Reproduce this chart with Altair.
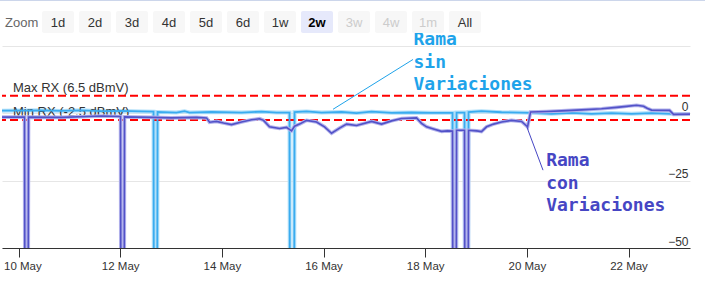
import altair as alt
import pandas as pd

BASE = pd.Timestamp("2023-05-10 00:00")

# (days after 10 May 00:00, dBmV) -- "Rama con Variaciones"
con_points = [
    (-0.325, -1.4), (0.118, -1.4), (0.124, -60), (0.191, -60), (0.197, -1.4),
    (0.846, -1.5), (1.633, -1.0), (2.007, -1.2), (2.013, -60), (2.080, -60),
    (2.085, -1.3), (2.617, -1.5), (3.010, -1.7), (3.502, -1.5), (3.699, -1.7),
    (3.758, -3.3), (3.895, -3.0), (4.033, -3.6), (4.190, -4.2), (4.387, -3.2),
    (4.584, -2.4), (4.741, -2.0), (4.820, -2.6), (4.938, -5.0), (5.135, -5.6),
    (5.272, -5.2), (5.371, -6.5), (5.430, -4.8), (5.528, -4.0), (5.666, -2.6),
    (5.863, -3.2), (6.020, -5.0), (6.158, -7.4), (6.315, -5.5), (6.453, -4.0),
    (6.650, -4.5), (6.945, -3.0), (7.142, -4.0), (7.338, -2.8), (7.535, -1.9),
    (7.830, -1.7), (7.928, -3.7), (8.027, -5.0), (8.164, -5.8), (8.322, -6.7),
    (8.440, -6.5), (8.538, -6.6), (8.544, -60), (8.611, -60), (8.617, -6.3),
    (8.774, -6.3), (8.780, -60), (8.847, -60), (8.853, -6.3), (9.011, -6.5),
    (9.108, -6.8), (9.207, -5.0), (9.345, -4.0), (9.502, -3.2), (9.699, -2.6),
    (9.896, -3.0), (10.014, -5.0), (10.073, 0.5), (10.388, 0.7), (10.683, 0.9),
    (11.076, 1.3), (11.470, 1.7), (11.765, 2.2), (11.962, 2.6), (12.158, 3.0),
    (12.296, 2.6), (12.375, 1.8), (12.453, 1.2), (12.807, 1.1), (12.886, -0.4),
    (13.240, -0.3),
]

# (days after 10 May 00:00, dBmV) -- "Rama sin Variaciones"
sin_points = [
    (-0.325, 1.0), (0.452, 1.1), (0.846, 0.9), (1.239, 1.1), (1.633, 0.8),
    (2.026, 0.9), (2.420, 0.7), (2.656, 0.6), (2.662, -60), (2.729, -60),
    (2.735, 0.5), (3.108, 0.3), (3.266, 0.8), (3.364, 0.3), (3.797, 0.5),
    (4.387, 0.3), (4.781, 0.6), (5.076, 0.3), (5.331, 0.3), (5.337, -60),
    (5.424, -60), (5.430, 0.5), (5.666, 0.7), (5.961, 0.3), (6.355, 0.5),
    (6.650, 0.1), (6.945, 0.6), (7.338, 0.2), (7.732, 0.3), (8.125, 0.2),
    (8.538, 0.2), (8.544, -60), (8.611, -60), (8.617, 0.3), (8.774, 0.3),
    (8.780, -60), (8.847, -60), (8.853, 0.5), (9.108, 0.8), (9.502, 0.4),
    (10.093, 0.2), (10.486, -0.2), (10.879, 0.2), (11.273, -0.2), (11.666, 0.1),
    (12.060, -0.2), (12.453, 0.1), (12.847, -0.2), (13.240, -0.3),
]

limit_values = [6.5, -2.5]
limit_labels = ["Max RX (6.5 dBmV)", "Min RX (-2.5 dBmV)"]

ann_texts = ["Rama\nsin\nVariaciones", "Rama\ncon\nVariaciones"]
ann_colors = ["#1ea3ea", "#4646c4"]
ann_text_day = [7.77, 10.38]
ann_text_val = [25.2, -19.6]
ann_from_day = [6.187, 10.003]
ann_from_val = [1.5, -5.2]
ann_to_day = [7.761, 10.318]
ann_to_val = [20.0, -21.1]

button_labels = ["1d", "2d", "3d", "4d", "5d", "6d", "1w", "2w", "3w", "4w", "1m", "All"]
button_states = ["n", "n", "n", "n", "n", "n", "n", "s", "d", "d", "d", "n"]

tick_days = [10, 12, 14, 16, 18, 20, 22]
y_ticks = [-50, -25, 0, 25]


def ts(d):
    return (BASE + pd.Timedelta(days=d)).strftime("%Y-%m-%dT%H:%M:%S")


df_con = pd.DataFrame({"t": [ts(d) for d, _ in con_points], "v": [v for _, v in con_points]})
df_sin = pd.DataFrame({"t": [ts(d) for d, _ in sin_points], "v": [v for _, v in sin_points]})
df_lim = pd.DataFrame({"v": limit_values, "label": limit_labels})
df_ann = pd.DataFrame({
    "text": ann_texts, "color": ann_colors,
    "tt": [ts(d) for d in ann_text_day], "tv": ann_text_val,
    "t1": [ts(d) for d in ann_from_day], "v1": ann_from_val,
    "t2": [ts(d) for d in ann_to_day], "v2": ann_to_val,
})
df_btn = pd.DataFrame({"label": button_labels, "state": button_states,
                       "i": list(range(len(button_labels)))})

FONT = "Liberation Sans"

x_scale = alt.Scale(domain=[alt.DateTime(year=2023, month=5, date=9, hours=16, minutes=12),
                            alt.DateTime(year=2023, month=5, date=23, hours=5, minutes=2)])
x_axis = alt.Axis(values=[alt.DateTime(year=2023, month=5, date=d) for d in tick_days],
                  format="%d %b", labelFontSize=11.5, labelColor="#333333", labelFont=FONT,
                  tickColor="#333333", tickSize=9, domainColor="#333333", grid=False,
                  labelPadding=3, labelFlush=20, labelFlushOffset=15, title=None)
y_scale = alt.Scale(domain=[-50, 25], nice=False, zero=False)
y_axis = alt.Axis(orient="right", values=y_ticks,
                  labelExpr="datum.value == 25 ? '' : datum.label",
                  grid=True, gridColor="#e6e6e6", domain=False, ticks=False, tickSize=0,
                  labelAlign="right", labelPadding=-2, labelBaseline="alphabetic",
                  labelOffset=-3, labelFontSize=12, labelColor="#333333", labelFont=FONT,
                  title=None)

X = alt.X("t:T", scale=x_scale, axis=x_axis, title=None)
Y = alt.Y("v:Q", scale=y_scale, axis=y_axis, title=None)

limit_text = alt.Chart(df_lim).mark_text(
    align="left", baseline="alphabetic", dy=-4, fontSize=13, font=FONT, color="#333333"
).encode(x=alt.value(11), y=Y, text="label:N")

limit_rule = alt.Chart(df_lim).mark_rule(
    color="#ff0000", strokeWidth=2, strokeDash=[8, 4]
).encode(y=Y)

sin_halo = alt.Chart(df_sin).mark_line(color="#b3e0f9", strokeWidth=4, clip=True).encode(x=X, y=Y)
sin_line = alt.Chart(df_sin).mark_line(color="#3aacef", strokeWidth=1.8, clip=True).encode(x=X, y=Y)
con_halo = alt.Chart(df_con).mark_line(color="#b4b4ec", strokeWidth=3.6, clip=True).encode(x=X, y=Y)
con_line = alt.Chart(df_con).mark_line(color="#5252c8", strokeWidth=1.6, clip=True).encode(x=X, y=Y)

ann_lines = alt.Chart(df_ann).mark_rule(strokeWidth=1).encode(
    x=alt.X("t1:T", scale=x_scale, axis=x_axis, title=None),
    x2="t2:T",
    y=alt.Y("v1:Q", scale=y_scale, axis=y_axis, title=None),
    y2="v2:Q",
    color=alt.Color("color:N", scale=None, legend=None),
)
ann_text = alt.Chart(df_ann).mark_text(
    align="left", baseline="alphabetic", font="DejaVu Sans Mono", fontWeight="bold",
    fontSize=18, lineBreak="\n", lineHeight=22.5
).encode(
    x=alt.X("tt:T", scale=x_scale, axis=x_axis, title=None),
    y=alt.Y("tv:Q", scale=y_scale, axis=y_axis, title=None),
    text="text:N",
    color=alt.Color("color:N", scale=None, legend=None),
)

btn_base = alt.Chart(df_btn).transform_calculate(
    bx="40 + 37 * datum.i",
    bx2="72 + 37 * datum.i",
    cx="56 + 37 * datum.i",
    bg="datum.state == 's' ? '#e6e9fb' : '#f7f7f7'",
    tc="datum.state == 'd' ? '#cccccc' : (datum.state == 's' ? '#000000' : '#333333')",
)
btn_rect = btn_base.mark_rect(cornerRadius=2).encode(
    x=alt.X("bx:Q", scale=None, axis=None), x2="bx2:Q",
    y=alt.value(-35), y2=alt.value(-13),
    fill=alt.Fill("bg:N", scale=None, legend=None),
)
btn_text = btn_base.transform_filter("datum.state != 's'").mark_text(
    fontSize=13, font=FONT, align="center", baseline="middle"
).encode(
    x=alt.X("cx:Q", scale=None, axis=None), y=alt.value(-23.5),
    text="label:N", color=alt.Color("tc:N", scale=None, legend=None),
)
btn_text_sel = btn_base.transform_filter("datum.state == 's'").mark_text(
    fontSize=13, font=FONT, align="center", baseline="middle", fontWeight="bold"
).encode(
    x=alt.X("cx:Q", scale=None, axis=None), y=alt.value(-23.5),
    text="label:N", color=alt.Color("tc:N", scale=None, legend=None),
)
zoom_label = alt.Chart(pd.DataFrame({"s": ["Zoom"]})).mark_text(
    fontSize=13, font=FONT, align="left", baseline="middle", color="#666666"
).encode(x=alt.value(3), y=alt.value(-23.5), text="s:N")

top_border = alt.Chart(pd.DataFrame({"s": [1]})).mark_rule(color="#ccd6eb", strokeWidth=2).encode(
    x=alt.value(-2), x2=alt.value(703), y=alt.value(-46)
)

chart = alt.layer(
    sin_halo, limit_text, limit_rule, sin_line, con_halo, con_line,
    ann_lines, ann_text, top_border, btn_rect, btn_text, btn_text_sel, zoom_label,
).properties(
    width=688, height=202,
    padding={"left": 2, "top": 46, "right": 15, "bottom": 38},
    autosize=alt.AutoSizeParams(type="none"),
    background="white",
).configure_view(stroke=None)

chart.save("out.html", embed_options={"renderer": "svg", "actions": False})
